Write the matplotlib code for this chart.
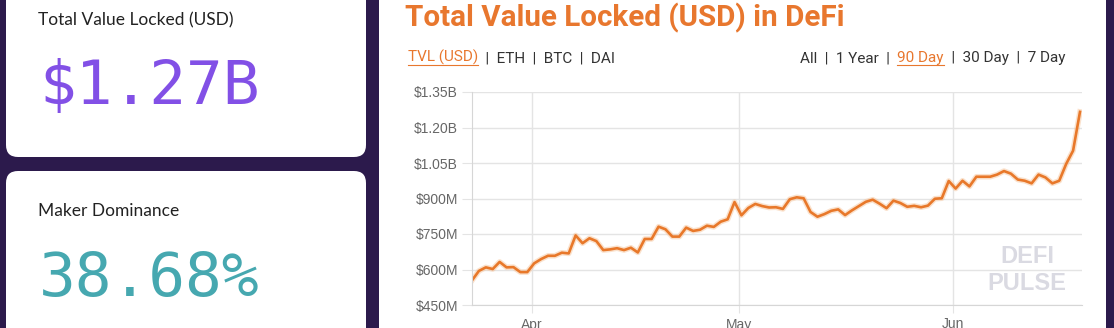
import pandas as pd
import matplotlib.pyplot as plt
import matplotlib.dates as mdates
from matplotlib.patches import FancyBboxPatch, Rectangle
from matplotlib.ticker import FuncFormatter

# daily TVL in millions of USD (90 day view)
dates = pd.date_range('2020-03-23 08:45', periods=89, freq='D')
tvl = [554, 594, 609, 602, 632, 609, 610, 589, 589, 626,
       644, 658, 658, 671, 668, 744, 711, 732, 720, 682,
       685, 690, 682, 692, 672, 729, 729, 781, 770, 739,
       739, 777, 763, 768, 785, 780, 802, 812, 885, 829,
       860, 877, 868, 862, 863, 856, 897, 905, 901, 843,
       823, 834, 848, 854, 830, 850, 868, 886, 895, 878,
       859, 891, 881, 865, 869, 863, 870, 899, 901, 974,
       942, 975, 951, 992, 992, 992, 1001, 1016, 1005, 980,
       975, 964, 1001, 989, 964, 975, 1046, 1102, 1266]
y_ticks = [450, 600, 750, 900, 1050, 1200, 1350]

tvl_label = "$1.27B"
dominance_label = "38.68%"
left_menu = [("TVL (USD)", True), ("  |  ETH  |  BTC  |  DAI", False)]
right_menu = [("All  |  1 Year  |  ", False), ("90 Day", True), ("  |  30 Day  |  7 Day", False)]

W, H = 1114, 328
BG = '#2c1a4c'
ORANGE = '#e8772e'

fig = plt.figure(figsize=(W / 100, H / 100), dpi=100)
fig.patch.set_facecolor(BG)

# full-figure axes in pixel units for the cards and text
bg = fig.add_axes([0, 0, 1, 1])
bg.set_xlim(0, W)
bg.set_ylim(H, 0)
bg.axis('off')

bg.add_patch(FancyBboxPatch((6, -30), 360, 187, boxstyle="round,pad=0,rounding_size=12",
                            fc='white', ec='none'))
bg.add_patch(FancyBboxPatch((6, 171), 360, 190, boxstyle="round,pad=0,rounding_size=12",
                            fc='white', ec='none'))
bg.add_patch(Rectangle((379, -10), 727, 350, fc='white', ec='none'))

bg.text(38, 25.5, "Total Value Locked (USD)", fontsize=12.5, family='Lato',
        color='#222222', va='baseline')
bg.text(39, 104, tvl_label, fontsize=44, family='DejaVu Sans Mono',
        color='#8250e6', va='baseline')
bg.text(38, 216.5, "Maker Dominance", fontsize=12.5, family='Lato',
        color='#222222', va='baseline')
bg.text(39, 296, dominance_label, fontsize=44, family='DejaVu Sans Mono',
        color='#46a8b0', va='baseline')

bg.text(405, 26, "Total Value Locked (USD) in DeFi", fontsize=21.3, family='Roboto',
        weight='bold', color=ORANGE, va='baseline')

renderer = fig.canvas.get_renderer()


def menu(parts, x, y, right=None):
    texts = []
    for s, active in parts:
        t = bg.text(x, y, s, fontsize=11, family='Roboto', va='baseline',
                    color=ORANGE if active else '#333333')
        texts.append((t, active))
    widths = [t.get_window_extent(renderer).width for t, _ in texts]
    if right is not None:
        x = right - sum(widths)
    for (t, active), w in zip(texts, widths):
        t.set_x(x)
        if active:
            bg.plot([x, x + w], [y + 2.5, y + 2.5], color=ORANGE, lw=0.8)
        x += w


menu(left_menu, 408, 62)
menu(right_menu, 798, 62, right=1065)

# watermark
bg.text(1027, 263, "DEFI", fontsize=17, family='Liberation Sans', weight='bold',
        color='#dadae2', ha='center', va='baseline')
bg.text(1027, 290, "PULSE", fontsize=17, family='Liberation Sans', weight='bold',
        color='#dadae2', ha='center', va='baseline')

# chart area
left, right, top, bottom = 472, 1082, 92, 305
ax = fig.add_axes([left / W, 1 - bottom / H, (right - left) / W, (bottom - top) / H])
ax.set_facecolor('none')
ax.plot(dates, tvl, color='#f6c49a', lw=4, alpha=0.5, solid_joinstyle='round')
ax.plot(dates, tvl, color='#e8782a', lw=1.9, solid_joinstyle='round')

ax.set_ylim(450, 1350)
ax.set_yticks(y_ticks)
ax.yaxis.set_major_formatter(FuncFormatter(
    lambda v, p: f"${v / 1000:.2f}B" if v >= 1000 else f"${v:.0f}M"))
ax.set_xlim(dates[0], dates[-1] + pd.Timedelta(hours=7))
ax.xaxis.set_major_locator(mdates.MonthLocator())
ax.xaxis.set_major_formatter(mdates.DateFormatter('%b'))

ax.grid(color='#e4e4e4', lw=1)
for s in ['top', 'right']:
    ax.spines[s].set_visible(False)
for s in ['left', 'bottom']:
    ax.spines[s].set_color('#d6d6d6')
ax.tick_params(axis='y', length=7, color='#e4e4e4', pad=3, labelsize=10, labelcolor='#666666')
ax.tick_params(axis='x', length=6, color='#e4e4e4', pad=3, labelsize=10, labelcolor='#666666')
for lab in ax.get_xticklabels() + ax.get_yticklabels():
    lab.set_family('Liberation Sans')

fig.savefig('out.png', dpi=100, facecolor=BG)
